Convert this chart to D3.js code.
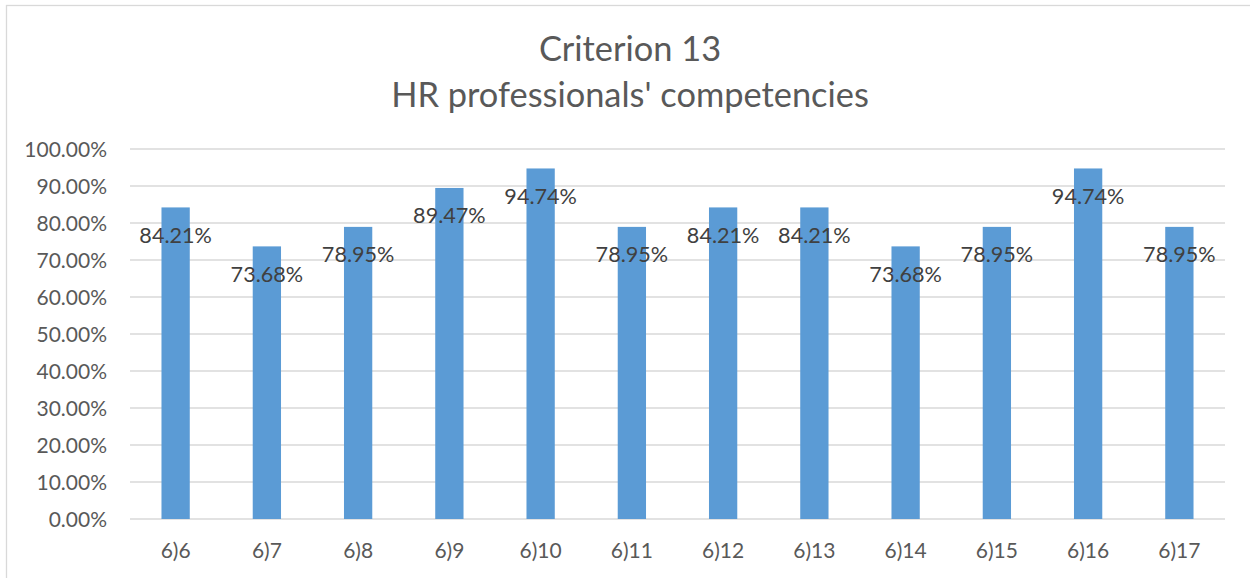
<!DOCTYPE html>
<html>
<head>
<meta charset="utf-8">
<script src="https://cdn.jsdelivr.net/npm/d3@7"></script>
<style>
  html, body { margin: 0; padding: 0; background: #fff; }
  svg { display: block; }
</style>
</head>
<body>
<svg id="chart" width="1250" height="578"></svg>
<script>
const categories = ["6)6", "6)7", "6)8", "6)9", "6)10", "6)11", "6)12", "6)13", "6)14", "6)15", "6)16", "6)17"];
const values = [0.8421, 0.7368, 0.7895, 0.8947, 0.9474, 0.7895, 0.8421, 0.8421, 0.7368, 0.7895, 0.9474, 0.7895];
const valueLabels = ["84.21%", "73.68%", "78.95%", "89.47%", "94.74%", "78.95%", "84.21%", "84.21%", "73.68%", "78.95%", "94.74%", "78.95%"];
const yTicks = [0, 0.1, 0.2, 0.3, 0.4, 0.5, 0.6, 0.7, 0.8, 0.9, 1.0];
const titleLines = ["Criterion 13", "HR professionals' competencies"];

const svg = d3.select("#chart");
const font = "Lato, 'Open Sans', sans-serif";

// chart border (left and top visible)
svg.append("rect").attr("x", 6.5).attr("y", 5.5).attr("width", 1300).attr("height", 700)
  .attr("fill", "none").attr("stroke", "#d9d9d9").attr("stroke-width", 1.3);

const x = d3.scaleBand().domain(categories).range([130, 1225]).paddingInner(0.69).paddingOuter(0.345);
const y = d3.scaleLinear().domain([0, 1]).range([519, 149]);

// gridlines
svg.append("g").selectAll("line").data(yTicks).join("line")
  .attr("x1", 130).attr("x2", 1225)
  .attr("y1", d => y(d)).attr("y2", d => y(d))
  .attr("stroke", "#d9d9d9").attr("stroke-width", 1.3);

// y axis labels
const yAxis = d3.axisLeft(y).tickValues(yTicks).tickFormat(d3.format(".2%")).tickSize(0).tickPadding(0);
const yg = svg.append("g").attr("transform", "translate(107,0)").call(yAxis);
yg.select(".domain").remove();
yg.selectAll("text").attr("font-family", font).attr("font-size", 21).attr("fill", "#595959").attr("dy", "0.35em");

// bars
svg.append("g").selectAll("rect").data(values).join("rect")
  .attr("x", (d, i) => x(categories[i]))
  .attr("width", x.bandwidth())
  .attr("y", d => y(d))
  .attr("height", d => y(0) - y(d))
  .attr("fill", "#5b9bd5");

// x axis labels
const xAxis = d3.axisBottom(x).tickSize(0).tickPadding(0);
const xg = svg.append("g").attr("transform", "translate(0,551)").call(xAxis);
xg.select(".domain").remove();
xg.selectAll("text").attr("font-family", font).attr("font-size", 21).attr("fill", "#595959").attr("dy", "0.35em");

// data labels
svg.append("g").selectAll("text").data(values).join("text")
  .attr("x", (d, i) => x(categories[i]) + x.bandwidth() / 2)
  .attr("y", d => y(d) + 30)
  .attr("text-anchor", "middle")
  .attr("dominant-baseline", "middle")
  .attr("font-family", font).attr("font-size", 21.6).attr("fill", "#404040")
  .text((d, i) => valueLabels[i]);

// title
svg.append("g").selectAll("text").data(titleLines).join("text")
  .attr("x", 630)
  .attr("y", (d, i) => 52 + i * 46)
  .attr("text-anchor", "middle")
  .attr("dominant-baseline", "middle")
  .attr("font-family", font).attr("font-size", 34.4).attr("fill", "#595959")
  .text(d => d);
</script>
</body>
</html>
